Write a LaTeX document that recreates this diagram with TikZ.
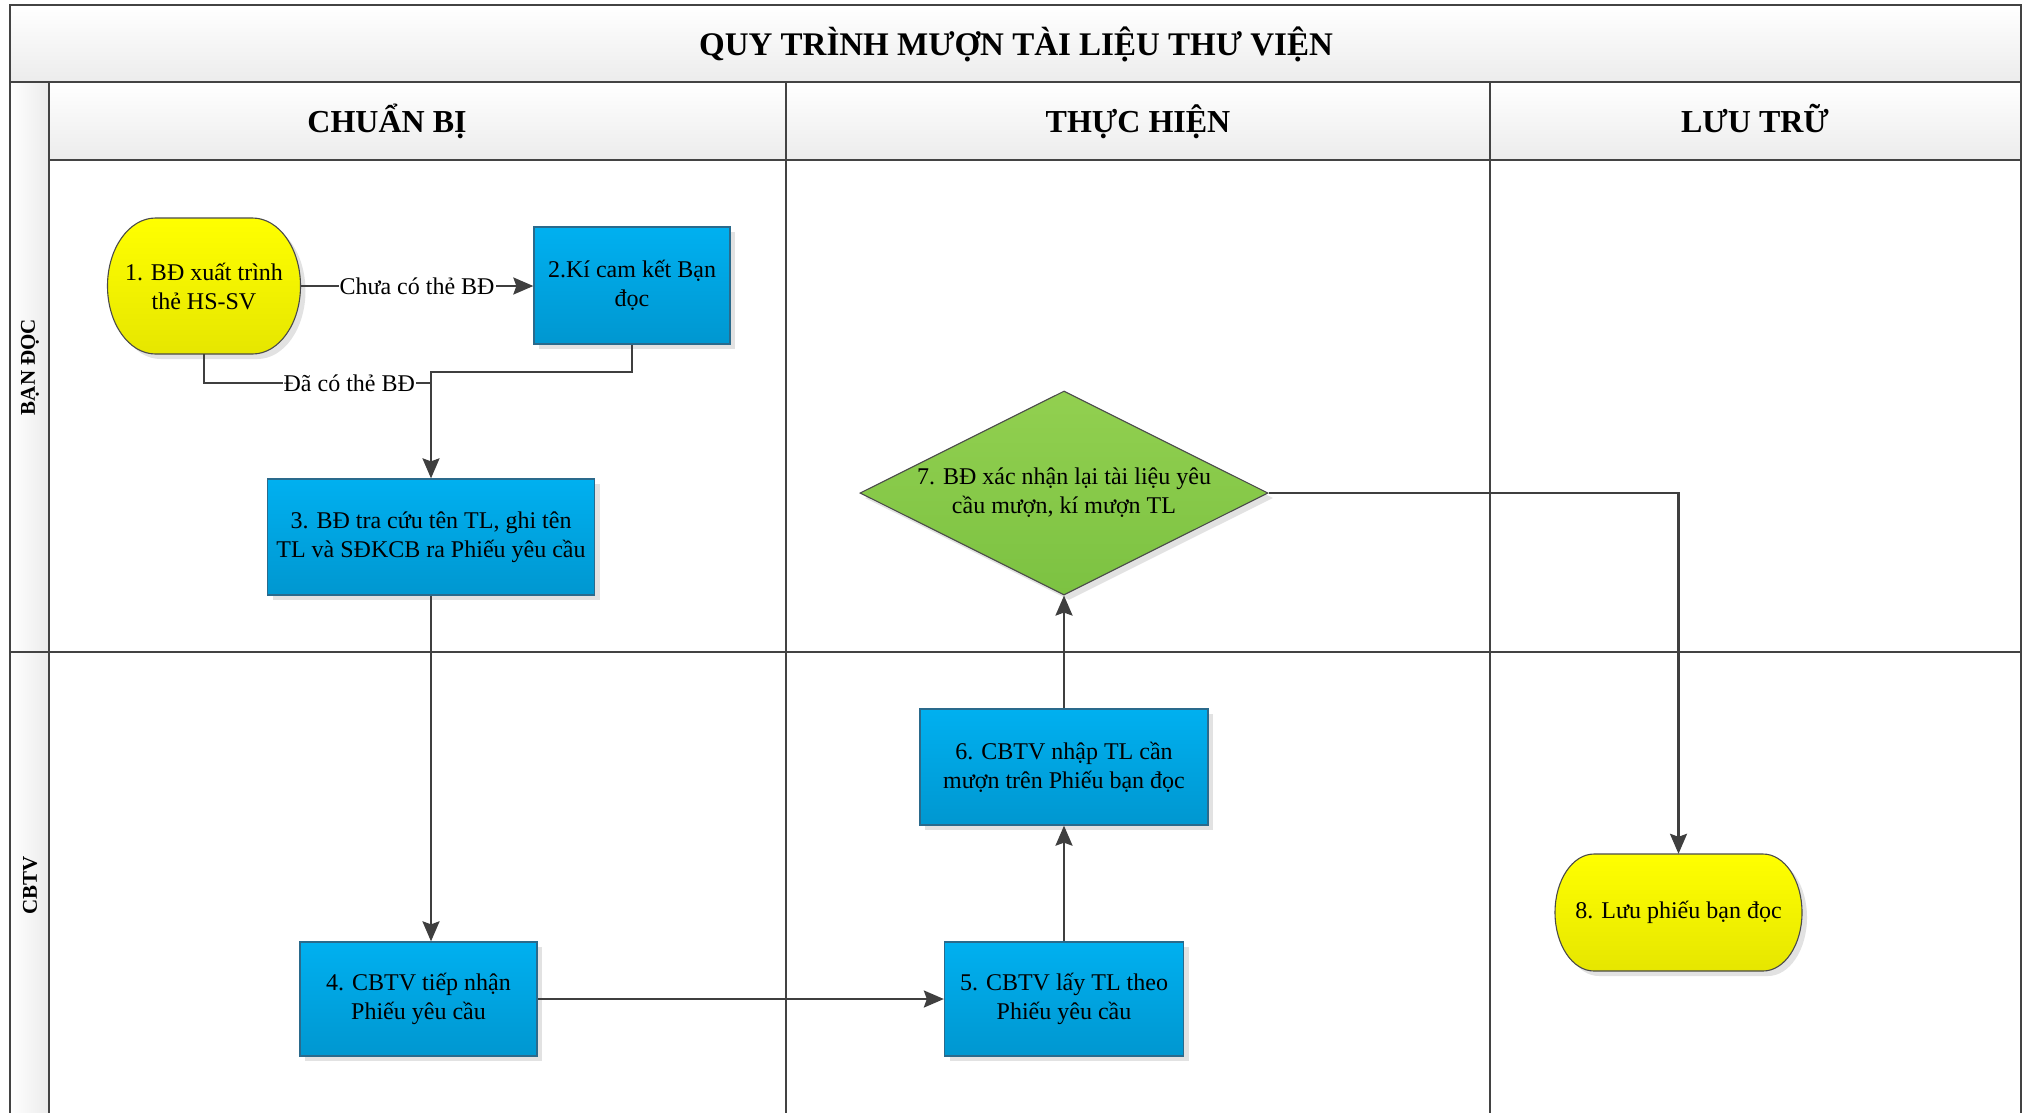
\documentclass[tikz,border=0pt]{standalone}
\usepackage{fontspec}
\setmainfont{Liberation Serif}
\usetikzlibrary{shapes.geometric,arrows.meta,shadows,calc}
\definecolor{gridc}{HTML}{434343}
\definecolor{connc}{HTML}{3F3F3F}
\definecolor{bluetop}{HTML}{00B0F0}
\definecolor{bluebot}{HTML}{0097D0}
\definecolor{boxborder}{HTML}{2A6A8C}
\definecolor{yeltop}{HTML}{FFFF00}
\definecolor{yelbot}{HTML}{E6E600}
\definecolor{greentop}{HTML}{92D050}
\definecolor{greenbot}{HTML}{7CC242}
\definecolor{shadowc}{HTML}{E2E2E2}
\definecolor{headbot}{HTML}{ECECEC}
\definecolor{stripc}{HTML}{EBEBEB}
\definecolor{shapeborder}{HTML}{4A4A4A}
\begin{document}
\begin{tikzpicture}[x=1pt,y=-1pt,
  nodefont/.style={font=\fontsize{24}{29}\selectfont},
  boxshadow/.style={drop shadow={shadow xshift=5pt,shadow yshift=-5pt,fill=shadowc,opacity=1}},
  procbox/.style={rectangle,draw=boxborder,line width=1.3pt,top color=bluetop,bottom color=bluebot,
    align=center,inner sep=0pt,nodefont,boxshadow},
  termfill/.style={draw=shapeborder,line width=1.1pt,top color=yeltop,bottom color=yelbot},
  termshadow/.style={fill=shadowc,shift={(5,5)}},
  termnode/.style={rectangle,inner sep=0pt,align=center,nodefont},
  decision/.style={diamond,aspect=2,draw=shapeborder,line width=1.1pt,top color=greentop,bottom color=greenbot,
    inner sep=0pt,align=center,nodefont,boxshadow},
  gridline/.style={draw=gridc,line width=1.6pt},
  frameline/.style={draw=gridc,line width=2.2pt},
  conn/.style={draw=connc,line width=2.4pt},
  arrowed/.style={-{Stealth[length=20pt,width=17pt,inset=3pt]}},
  elabel/.style={fill=white,inner sep=1pt,nodefont},
  titletext/.style={font=\fontsize{33}{38}\selectfont\bfseries},
  headtext/.style={font=\fontsize{32}{36}\selectfont\bfseries,anchor=base},
  lanetext/.style={font=\fontsize{21}{24}\selectfont\bfseries,rotate=90}
]
\useasboundingbox (0,0) rectangle (2031,1112);
% backgrounds
\fill[top color=white,bottom color=headbot] (10,5) rectangle (2021,82);
\fill[top color=white,bottom color=headbot] (49,82) rectangle (2021,160);
\fill[left color=white,right color=stripc] (10,82) rectangle (49,1114);
% grid
\draw[gridline] (10,82) -- (2021,82);
\draw[gridline] (49,160) -- (2021,160);
\draw[gridline] (10,652) -- (2021,652);
\draw[gridline] (49,82) -- (49,1114);
\draw[gridline] (786,82) -- (786,1114);
\draw[gridline] (1490,82) -- (1490,1114);
\draw[frameline] (10,1114) -- (10,5) -- (2021,5) -- (2021,1114);
% titles
\node[titletext] (title) at (1016,44) {QUY TRÌNH MƯỢN TÀI LIỆU THƯ VIỆN};
\node[headtext] (hdA) at (387,132) {CHUẨN BỊ};
\node[headtext] (hdB) at (1138,132) {THỰC HIỆN};
\node[headtext] (hdC) at (1755,132) {LƯU TRỮ};
\node[lanetext] (laneA) at (30,367) {BẠN ĐỌC};
\node[lanetext] (laneB) at (30,885) {CBTV};
% terminator shapes
\path[termshadow] (155.5,218) -- (252.5,218) arc[start angle=90,end angle=-90,x radius=48pt,y radius=68pt]
  -- (155.5,354) arc[start angle=270,end angle=90,x radius=48pt,y radius=68pt] -- cycle;
\path[termfill] (155.5,218) -- (252.5,218) arc[start angle=90,end angle=-90,x radius=48pt,y radius=68pt]
  -- (155.5,354) arc[start angle=270,end angle=90,x radius=48pt,y radius=68pt] -- cycle;
\path[termshadow] (1594,854) -- (1763,854) arc[start angle=90,end angle=-90,x radius=39pt,y radius=58.5pt]
  -- (1594,971) arc[start angle=270,end angle=90,x radius=39pt,y radius=58.5pt] -- cycle;
\path[termfill] (1594,854) -- (1763,854) arc[start angle=90,end angle=-90,x radius=39pt,y radius=58.5pt]
  -- (1594,971) arc[start angle=270,end angle=90,x radius=39pt,y radius=58.5pt] -- cycle;
% nodes
\node[termnode,minimum width=193pt,minimum height=136pt] (t1) at (204,286) {1. BĐ xuất trình\\thẻ HS-SV};
\node[procbox,minimum width=196pt,minimum height=117pt] (b2) at (632,285.5) {2.Kí cam kết Bạn\\đọc};
\node[procbox,minimum width=327pt,minimum height=116pt] (b3) at (431,537) {3. BĐ tra cứu tên TL, ghi tên\\TL và SĐKCB ra Phiếu yêu cầu};
\node[procbox,minimum width=237pt,minimum height=114pt] (b4) at (418.5,999) {4. CBTV tiếp nhận\\Phiếu yêu cầu};
\node[procbox,minimum width=239pt,minimum height=114pt] (b5) at (1064,999) {5. CBTV lấy TL theo\\Phiếu yêu cầu};
\node[procbox,minimum width=288pt,minimum height=116pt] (b6) at (1064,767) {6. CBTV nhập TL cần\\mượn trên Phiếu bạn đọc};
\node[decision,minimum width=408pt,minimum height=204pt] (d7) at (1064,493) {7. BĐ xác nhận lại tài liệu yêu\\cầu mượn, kí mượn TL};
\node[termnode,minimum width=247pt,minimum height=117pt] (t8) at (1678.5,912.5) {8. Lưu phiếu bạn đọc};
% connectors
\coordinate (j1) at (431,383);
\coordinate (j2) at (431,372);
\draw[conn,arrowed] (t1.east) -- node[elabel]{Chưa có thẻ BĐ} (t1.east -| b2.west);
\draw[conn] (b2.south) |- (j2) -- (j1);
\draw[conn,arrowed] (t1.south) |- node[elabel,pos=0.82]{Đã có thẻ BĐ} (j1) -- (b3.north);
\draw[conn,arrowed] (b3.south) -- (b3.south |- b4.north);
\draw[conn,arrowed] (b4.east) -- (b4.east -| b5.west);
\draw[conn,arrowed] (b5.north) -- (b6.south);
\draw[conn,arrowed] (b6.north) -- (d7.south);
\draw[conn,arrowed] (d7.east) -| (t8.north);
\end{tikzpicture}
\end{document}
